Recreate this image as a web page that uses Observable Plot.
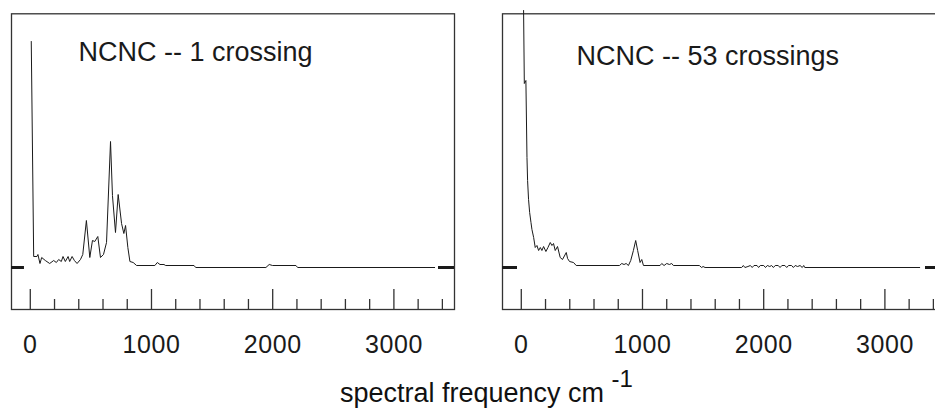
<!DOCTYPE html>
<html>
<head>
<meta charset="utf-8">
<script src="https://cdn.jsdelivr.net/npm/d3@7"></script>
<script src="https://cdn.jsdelivr.net/npm/@observablehq/plot@0.6"></script>
<style>
  html, body { margin: 0; padding: 0; background: #fff; overflow: hidden; }
  #wrap { position: relative; width: 935px; height: 413px; overflow: hidden; background: #fff; }
  #wrap svg { position: absolute; top: 0; }
  #xlabel { position: absolute; left: 340px; top: 380px; font: 27px "Liberation Sans", Arial, sans-serif; line-height: 27px; white-space: nowrap; color: #111; }
  #xlabel span { font-size: 24px; position: relative; top: -15px; }
  g[aria-label^="x-axis"] text { letter-spacing: 0.6px; }
</style>
</head>
<body>
<div id="wrap">
  <div id="xlabel">spectral frequency cm <span>-1</span></div>
</div>
<script>
// Tick values (cm^-1)
const majorTicks = [0, 1000, 2000, 3000];
const minorTicks = [200, 400, 600, 800, 1200, 1400, 1600, 1800, 2200, 2400, 2600, 2800, 3200, 3400];

// Panel titles
const titles = ["NCNC -- 1 crossing", "NCNC -- 53 crossings"];

// Left panel: NCNC, 1 crossing (frequency cm^-1, intensity arb. units)
const leftFreq = [8, 28, 55, 63, 80, 94, 124, 160, 193, 215, 234, 256, 270, 289, 312, 325, 345, 364, 386, 414,
  433, 463, 491, 513, 532, 557, 579, 604, 629, 662, 678, 703, 725, 753, 772, 786, 805, 822, 849, 877,
  1028, 1048, 1070, 1103, 1117, 1351, 1365, 1944, 1971, 1999, 2192, 2206, 3336];
const leftInt = [226, 11, 11, 13, 4, 10, 7, 4, 7, 5, 8, 6, 11, 6, 11, 6, 11, 7, 4, 8,
  13, 47, 10, 27, 26, 31, 10, 13, 25, 126, 72, 35, 73, 44, 34, 42, 20, 6, 5, 2,
  2, 5, 3, 3, 2, 2, 0, 0, 3, 2, 2, 0, 0];

// Right panel: NCNC, 53 crossings
const rightFreq = [19, 25, 38, 47, 52, 60, 69, 80, 88, 102, 115, 129, 143, 157, 170, 184, 203, 220, 239, 253,
  266, 280, 299, 321, 340, 371, 382, 398, 431, 453, 810, 829, 848, 865, 884, 903, 925, 944, 960, 980,
  994, 1008, 1145, 1159, 1178, 1200, 1222, 1241, 1255, 1469, 1488, 1500, 1516, 1818, 1832, 1845, 1870, 1890, 1905, 1920,
  1945, 1958, 1972, 2000, 2015, 2030, 2050, 2065, 2080, 2095, 2120, 2135, 2150, 2175, 2190, 2205, 2230, 2245, 2260, 2280,
  2300, 2318, 2330, 2339, 3287];
const rightInt = [257, 184, 187, 110, 87, 68, 55, 45, 38, 30, 20, 22, 17, 20, 17, 21, 16, 20, 25, 22,
  24, 17, 21, 10, 8, 15, 9, 6, 5, 2, 2, 4, 3, 4, 2, 7, 17, 27, 17, 5,
  8, 2, 2, 4, 2, 4, 3, 4, 2, 2, 0, 1, 0, 0, 2, 0, 1, 2, 0, 2,
  2, 0, 2, 2, 0, 2, 1, 2, 0, 2, 2, 0, 2, 2, 0, 2, 2, 0, 2, 1,
  2, 0, 2, 0, 0];

const xDomain = [-155, 3500];
const yDomain = [-42, 253.7];

function panel({freq, inten, title, left, width, marginLeft, marginRight, dx, dy, dashL, dashR}) {
  const data = freq.map((f, i) => ({f, h: inten[i]}));
  const ink = "#1a1a1a";
  const svg = Plot.plot({
    width, height: 413,
    marginLeft, marginRight, marginTop: 13.3, marginBottom: 104,
    style: {fontFamily: "'Liberation Sans', Arial, sans-serif", fontSize: "25px", background: "transparent", overflow: "visible", color: ink},
    x: {domain: xDomain, ticks: majorTicks, tickSize: 0, tickPadding: 26, tickFormat: d => String(d), label: null},
    y: {domain: yDomain, axis: null},
    marks: [
      Plot.frame({stroke: "#333", strokeWidth: 1.3}),
      Plot.ruleX(majorTicks, {x: d => d, y1: yDomain[0], y2: yDomain[0] + 20, stroke: "#333", strokeWidth: 1.3}),
      Plot.ruleX(minorTicks, {x: d => d, y1: yDomain[0], y2: yDomain[0] + 10, stroke: "#333", strokeWidth: 1.3}),
      Plot.ruleY([0], {x1: dashL[0], x2: dashL[1], stroke: ink, strokeWidth: 3}),
      Plot.ruleY([0], {x1: dashR[0], x2: dashR[1], stroke: ink, strokeWidth: 3}),
      Plot.line(data, {x: "f", y: "h", stroke: ink, strokeWidth: 1}),
      Plot.text([title], {text: d => d, frameAnchor: "top-left", dx, dy, textAnchor: "start", lineAnchor: "top", fontSize: 27, fill: ink})
    ]
  });
  svg.style.left = left + "px";
  svg.style.maxWidth = "none";
  document.getElementById("wrap").appendChild(svg);
}

panel({freq: leftFreq, inten: leftInt, title: titles[0], left: 0, width: 470, marginLeft: 11, marginRight: 16,
  dx: 67, dy: 28.4, dashL: [-155, -48], dashR: [3368, 3500]});
panel({freq: rightFreq, inten: rightInt, title: titles[1], left: 470, width: 496, marginLeft: 32, marginRight: 21,
  dx: 74, dy: 31.7, dashL: [-155, -31], dashR: [3335, 3500]});
</script>
</body>
</html>
